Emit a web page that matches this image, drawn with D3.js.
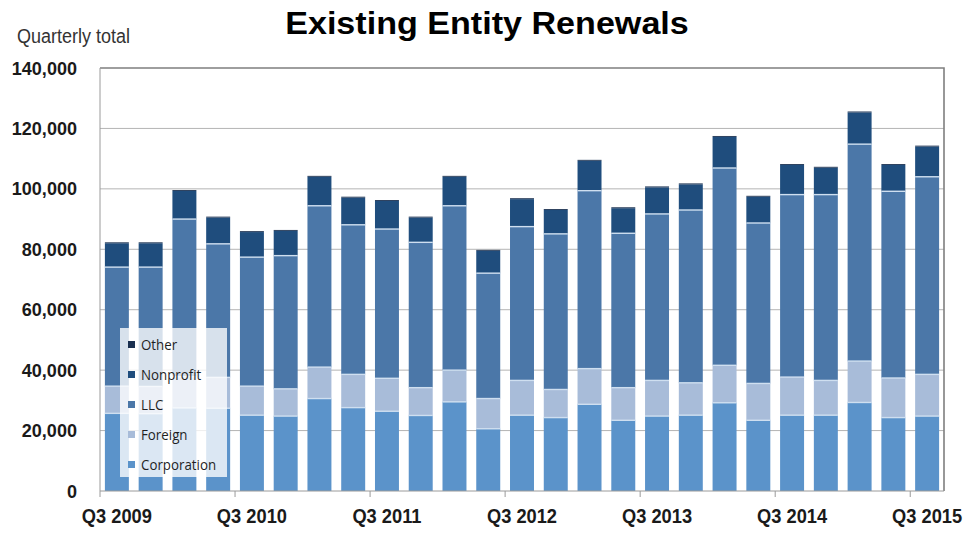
<!DOCTYPE html>
<html>
<head>
<meta charset="utf-8">
<script src="https://cdn.jsdelivr.net/npm/d3@7"></script>
<style>
	body { margin: 0; background: #fff; }
	svg { display: block; font-family: 'Liberation Sans', Arial, sans-serif; }
</style>
</head>
<body>
<svg id="chart"></svg>
<script>
const quarters = [
	'Q3 2009', 'Q4 2009', 'Q1 2010', 'Q2 2010',
	'Q3 2010', 'Q4 2010', 'Q1 2011', 'Q2 2011',
	'Q3 2011', 'Q4 2011', 'Q1 2012', 'Q2 2012',
	'Q3 2012', 'Q4 2012', 'Q1 2013', 'Q2 2013',
	'Q3 2013', 'Q4 2013', 'Q1 2014', 'Q2 2014',
	'Q3 2014', 'Q4 2014', 'Q1 2015', 'Q2 2015',
	'Q3 2015'
];
const xTickLabels = ['Q3 2009', 'Q3 2010', 'Q3 2011', 'Q3 2012', 'Q3 2013', 'Q3 2014', 'Q3 2015'];
const yTicks = [0, 20000, 40000, 60000, 80000, 100000, 120000, 140000];

// series, bottom to top
const corporation = [25700, 25600, 27500, 27400, 25100, 24800, 30600, 27600, 26400, 25000, 29500, 20600, 25100,
	24300, 28700, 23400, 24800, 25100, 29200, 23400, 25100, 25100, 29300, 24300, 24800];
const foreign = [9000, 9000, 10300, 10200, 9600, 9000, 10400, 11000, 10900, 9200, 10500, 10000, 11500,
	9300, 11800, 10800, 11800, 10700, 12400, 12200, 12600, 11500, 13700, 13100, 13800];
const llc = [39400, 39500, 52200, 44200, 42700, 44100, 53400, 49500, 49400, 48100, 54400, 41500, 50900,
	51500, 58900, 51100, 55100, 57200, 65300, 53100, 60400, 61500, 71800, 61800, 65400];
const nonprofit = [7900, 7900, 9300, 8700, 8300, 8200, 9600, 9000, 9300, 8200, 9600, 7400, 9100,
	7900, 9900, 8300, 8800, 8500, 10300, 8700, 9800, 8900, 10500, 8700, 10000];
const other = [300, 300, 300, 300, 300, 300, 300, 300, 300, 300, 300, 300, 300,
	300, 300, 300, 300, 300, 300, 300, 300, 300, 300, 300, 300];

const seriesNames = ['Corporation', 'Foreign', 'LLC', 'Nonprofit', 'Other'];
const seriesColors = ['#5b93ca', '#a8bcd9', '#4b77a8', '#1f4d7d', '#1a3050'];

const width = 978,
	height = 536,
	margin = { top: 68, right: 34, bottom: 45, left: 100 };

const table = quarters.map((q, i) => ({
	quarter: q,
	Corporation: corporation[i],
	Foreign: foreign[i],
	LLC: llc[i],
	Nonprofit: nonprofit[i],
	Other: other[i]
}));

const stacked = d3.stack().keys(seriesNames)(table);

const svg = d3.select('svg#chart')
	.attr('width', width)
	.attr('height', height);

const x = d3.scaleBand()
	.domain(quarters)
	.range([margin.left, width - margin.right])
	.paddingInner(0.29)
	.paddingOuter(0.145);

const y = d3.scaleLinear()
	.domain([0, 140000])
	.range([height - margin.bottom, margin.top]);

// squeeze text horizontally, the original uses a narrow face
function squeeze(sel, k) {
	sel.each(function() {
		const w = this.getComputedTextLength();
		d3.select(this)
			.attr('textLength', w * k)
			.attr('lengthAdjust', 'spacingAndGlyphs');
	});
}

// gridlines
svg.append('g')
	.selectAll('line')
	.data(yTicks.filter(d => d > 0 && d < 140000))
	.join('line')
	.attr('x1', margin.left)
	.attr('x2', width - margin.right)
	.attr('y1', d => y(d))
	.attr('y2', d => y(d))
	.attr('stroke', '#b4b4b4')
	.attr('stroke-width', 1);

// bars
const layers = svg.append('g')
	.selectAll('g')
	.data(stacked)
	.join('g')
	.attr('fill', (d, i) => seriesColors[i]);

layers.selectAll('rect')
	.data(d => d)
	.join('rect')
	.attr('x', d => x(d.data.quarter))
	.attr('width', x.bandwidth())
	.attr('y', d => y(d[1]))
	.attr('height', d => y(d[0]) - y(d[1]));

// light seams between the lower segments
svg.append('g')
	.selectAll('g')
	.data(stacked.slice(1, 4))
	.join('g')
	.selectAll('line')
	.data(d => d)
	.join('line')
	.attr('x1', d => x(d.data.quarter))
	.attr('x2', d => x(d.data.quarter) + x.bandwidth())
	.attr('y1', d => y(d[0]))
	.attr('y2', d => y(d[0]))
	.attr('stroke', '#cfdff0')
	.attr('stroke-width', 1.4);

// frame
svg.append('path')
	.attr('d', `M${margin.left},${y(140000)}H${width - margin.right}V${y(0)}`)
	.attr('fill', 'none')
	.attr('stroke', '#7f7f7f')
	.attr('stroke-width', 1.6);

svg.append('line')
	.attr('x1', margin.left).attr('x2', margin.left)
	.attr('y1', y(140000)).attr('y2', y(0))
	.attr('stroke', '#9a9a9a');

svg.append('line')
	.attr('x1', margin.left).attr('x2', width - margin.right)
	.attr('y1', y(0)).attr('y2', y(0))
	.attr('stroke', '#9a9a9a');

// y axis
const yAxis = svg.append('g')
	.attr('transform', `translate(${margin.left},0)`)
	.call(d3.axisLeft(y)
		.tickValues(yTicks)
		.tickSize(0)
		.tickPadding(23)
		.tickFormat(d3.format(','))
	);
yAxis.select('.domain').remove();
yAxis.selectAll('text')
	.attr('font-family', "'Liberation Sans', Arial, sans-serif")
	.attr('font-size', 19)
	.attr('font-weight', 'bold')
	.attr('fill', '#1a1a1a')
	.call(squeeze, 0.95);

// x ticks at band edges, labels under bar centres
const step = x.step(),
	edge = q => x(q) - step * x.paddingInner() / 2;

svg.append('g')
	.selectAll('line')
	.data(xTickLabels)
	.join('line')
	.attr('x1', d => edge(d))
	.attr('x2', d => edge(d))
	.attr('y1', y(0))
	.attr('y2', y(0) + 6)
	.attr('stroke', '#9a9a9a');

svg.append('g')
	.selectAll('text')
	.data(xTickLabels)
	.join('text')
	.attr('x', d => x(d) + x.bandwidth() / 2)
	.attr('y', 523)
	.attr('text-anchor', 'middle')
	.attr('font-size', 21)
	.attr('font-weight', 'bold')
	.attr('fill', '#1a1a1a')
	.text(d => d)
	.call(squeeze, 0.87);

// titles
svg.append('text')
	.attr('x', 487)
	.attr('y', 34)
	.attr('text-anchor', 'middle')
	.attr('font-size', 31)
	.attr('font-weight', 'bold')
	.attr('fill', '#000')
	.text('Existing Entity Renewals')
	.call(squeeze, 1.1);

svg.append('text')
	.attr('x', 17)
	.attr('y', 43)
	.attr('font-size', 20)
	.attr('fill', '#333')
	.text('Quarterly total')
	.call(squeeze, 0.9);

// legend, top entry first
const legend = svg.append('g');

legend.append('rect')
	.attr('x', 120)
	.attr('y', 328)
	.attr('width', 107)
	.attr('height', 149)
	.attr('fill', '#fff')
	.attr('fill-opacity', 0.78);

const legendItems = legend.selectAll('g.item')
	.data(seriesNames.slice().reverse())
	.join('g')
	.classed('item', true)
	.attr('transform', (d, i) => `translate(128,${345 + i * 30})`);

legendItems.append('rect')
	.attr('x', 0)
	.attr('y', -4)
	.attr('width', 7)
	.attr('height', 7)
	.attr('fill', d => seriesColors[seriesNames.indexOf(d)]);

legendItems.append('text')
	.attr('x', 13)
	.attr('y', 5)
	.attr('font-family', "'Open Sans', sans-serif")
	.attr('font-size', 14)
	.attr('fill', '#1f1f1f')
	.text(d => d)
	.call(squeeze, 0.95);
</script>
</body>
</html>
